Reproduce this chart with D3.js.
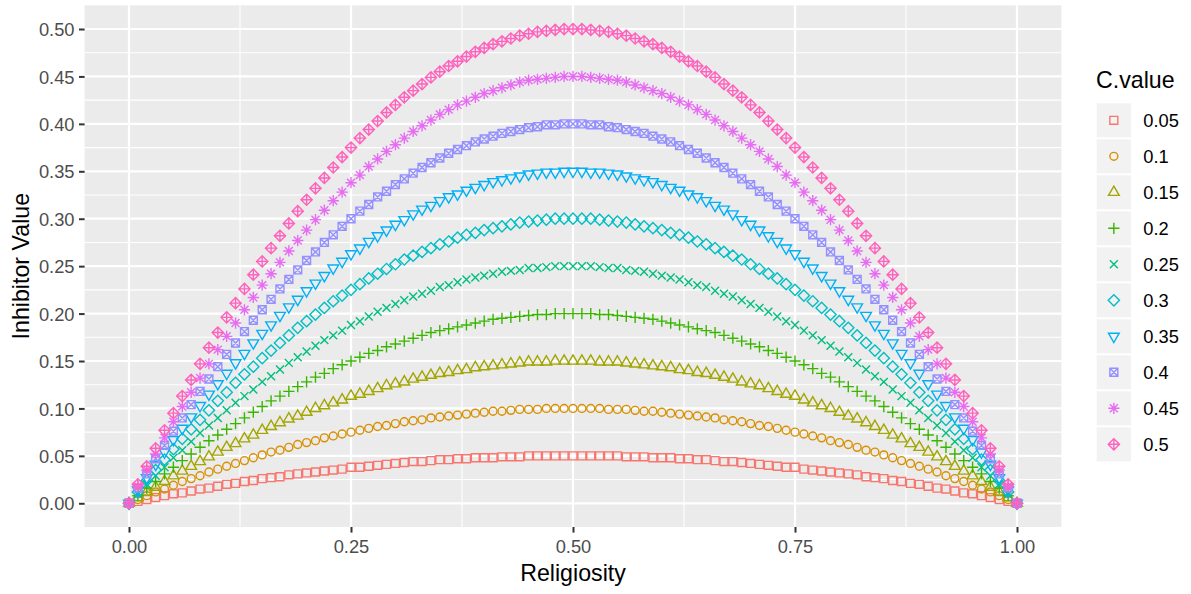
<!DOCTYPE html>
<html>
<head>
<meta charset="utf-8">
<script src="https://cdn.jsdelivr.net/npm/d3@7"></script>
<style>
  html, body { margin: 0; padding: 0; background: #fff; }
  svg { display: block; font-family: "Liberation Sans", Arial, sans-serif; }
</style>
</head>
<body>
<svg id="chart" width="1191" height="594"></svg>
<script>
// Religiosity grid (x values)
const religiosity = [0,0.01,0.02,0.03,0.04,0.05,0.06,0.07,0.08,0.09,
  0.10,0.11,0.12,0.13,0.14,0.15,0.16,0.17,0.18,0.19,
  0.20,0.21,0.22,0.23,0.24,0.25,0.26,0.27,0.28,0.29,
  0.30,0.31,0.32,0.33,0.34,0.35,0.36,0.37,0.38,0.39,
  0.40,0.41,0.42,0.43,0.44,0.45,0.46,0.47,0.48,0.49,
  0.50,0.51,0.52,0.53,0.54,0.55,0.56,0.57,0.58,0.59,
  0.60,0.61,0.62,0.63,0.64,0.65,0.66,0.67,0.68,0.69,
  0.70,0.71,0.72,0.73,0.74,0.75,0.76,0.77,0.78,0.79,
  0.80,0.81,0.82,0.83,0.84,0.85,0.86,0.87,0.88,0.89,
  0.90,0.91,0.92,0.93,0.94,0.95,0.96,0.97,0.98,0.99,1.00];

// Inhibitor value for each C.value
const inh005 = [0,.002,.004,.006,.008,.010,.011,.013,.015,.016,
  .018,.020,.021,.023,.024,.026,.027,.028,.030,.031,
  .032,.033,.034,.035,.036,.038,.038,.039,.040,.041,
  .042,.043,.044,.044,.045,.046,.046,.047,.047,.048,
  .048,.048,.049,.049,.049,.050,.050,.050,.050,.050,
  .050,
  .050,.050,.050,.050,.050,.049,.049,.049,.048,.048,
  .048,.047,.047,.046,.046,.045,.044,.044,.043,.042,
  .041,.040,.039,.038,.038,.036,.035,.034,.033,.032,
  .031,.030,.028,.027,.026,.024,.023,.021,.020,.018,
  .016,.015,.013,.011,.010,.008,.006,.004,.002,0];
const inh010 = [0,.004,.008,.012,.015,.019,.023,.026,.029,.033,
  .036,.039,.042,.045,.048,.051,.054,.056,.059,.062,
  .064,.066,.069,.071,.073,.075,.077,.079,.081,.082,
  .084,.086,.087,.088,.090,.091,.092,.093,.094,.095,
  .096,.097,.097,.098,.099,.099,.099,.100,.100,.100,
  .100,
  .100,.100,.100,.099,.099,.099,.098,.097,.097,.096,
  .095,.094,.093,.092,.091,.090,.088,.087,.086,.084,
  .082,.081,.079,.077,.075,.073,.071,.069,.066,.064,
  .062,.059,.056,.054,.051,.048,.045,.042,.039,.036,
  .033,.029,.026,.023,.019,.015,.012,.008,.004,0];
const inh015 = [0,.006,.012,.017,.023,.029,.034,.039,.044,.049,
  .054,.059,.063,.068,.072,.077,.081,.085,.089,.092,
  .096,.100,.103,.106,.109,.113,.115,.118,.121,.124,
  .126,.128,.131,.133,.135,.137,.138,.140,.141,.143,
  .144,.145,.146,.147,.148,.149,.149,.149,.150,.150,
  .150,
  .150,.150,.149,.149,.149,.148,.147,.146,.145,.144,
  .143,.141,.140,.138,.137,.135,.133,.131,.128,.126,
  .124,.121,.118,.115,.113,.109,.106,.103,.100,.096,
  .092,.089,.085,.081,.077,.072,.068,.063,.059,.054,
  .049,.044,.039,.034,.029,.023,.017,.012,.006,0];
const inh020 = [0,.008,.016,.023,.031,.038,.045,.052,.059,.066,
  .072,.078,.084,.090,.096,.102,.108,.113,.118,.123,
  .128,.133,.137,.142,.146,.150,.154,.158,.161,.165,
  .168,.171,.174,.177,.180,.182,.184,.186,.188,.190,
  .192,.194,.195,.196,.197,.198,.199,.199,.200,.200,
  .200,
  .200,.200,.199,.199,.198,.197,.196,.195,.194,.192,
  .190,.188,.186,.184,.182,.180,.177,.174,.171,.168,
  .165,.161,.158,.154,.150,.146,.142,.137,.133,.128,
  .123,.118,.113,.108,.102,.096,.090,.084,.078,.072,
  .066,.059,.052,.045,.038,.031,.023,.016,.008,0];
const inh025 = [0,.010,.020,.029,.038,.048,.056,.065,.074,.082,
  .090,.098,.106,.113,.120,.128,.134,.141,.148,.154,
  .160,.166,.172,.177,.182,.188,.192,.197,.202,.206,
  .210,.214,.218,.221,.224,.228,.230,.233,.236,.238,
  .240,.242,.244,.245,.246,.248,.248,.249,.250,.250,
  .250,
  .250,.250,.249,.248,.248,.246,.245,.244,.242,.240,
  .238,.236,.233,.230,.228,.224,.221,.218,.214,.210,
  .206,.202,.197,.192,.188,.182,.177,.172,.166,.160,
  .154,.148,.141,.134,.128,.120,.113,.106,.098,.090,
  .082,.074,.065,.056,.048,.038,.029,.020,.010,0];
const inh030 = [0,.012,.024,.035,.046,.057,.068,.078,.088,.098,
  .108,.117,.127,.136,.144,.153,.161,.169,.177,.185,
  .192,.199,.206,.213,.219,.225,.231,.237,.242,.247,
  .252,.257,.261,.265,.269,.273,.276,.280,.283,.285,
  .288,.290,.292,.294,.296,.297,.298,.299,.300,.300,
  .300,
  .300,.300,.299,.298,.297,.296,.294,.292,.290,.288,
  .285,.283,.280,.276,.273,.269,.265,.261,.257,.252,
  .247,.242,.237,.231,.225,.219,.213,.206,.199,.192,
  .185,.177,.169,.161,.153,.144,.136,.127,.117,.108,
  .098,.088,.078,.068,.057,.046,.035,.024,.012,0];
const inh035 = [0,.014,.027,.041,.054,.067,.079,.091,.103,.115,
  .126,.137,.148,.158,.169,.179,.188,.198,.207,.215,
  .224,.232,.240,.248,.255,.263,.269,.276,.282,.288,
  .294,.299,.305,.310,.314,.319,.323,.326,.330,.333,
  .336,.339,.341,.343,.345,.347,.348,.349,.349,.350,
  .350,
  .350,.349,.349,.348,.347,.345,.343,.341,.339,.336,
  .333,.330,.326,.323,.319,.314,.310,.305,.299,.294,
  .288,.282,.276,.269,.263,.255,.248,.240,.232,.224,
  .215,.207,.198,.188,.179,.169,.158,.148,.137,.126,
  .115,.103,.091,.079,.067,.054,.041,.027,.014,0];
const inh040 = [0,.016,.031,.047,.061,.076,.090,.104,.118,.131,
  .144,.157,.169,.181,.193,.204,.215,.226,.236,.246,
  .256,.265,.275,.283,.292,.300,.308,.315,.323,.329,
  .336,.342,.348,.354,.359,.364,.369,.373,.377,.381,
  .384,.387,.390,.392,.394,.396,.397,.399,.399,.400,
  .400,
  .400,.399,.399,.397,.396,.394,.392,.390,.387,.384,
  .381,.377,.373,.369,.364,.359,.354,.348,.342,.336,
  .329,.323,.315,.308,.300,.292,.283,.275,.265,.256,
  .246,.236,.226,.215,.204,.193,.181,.169,.157,.144,
  .131,.118,.104,.090,.076,.061,.047,.031,.016,0];
const inh045 = [0,.018,.035,.052,.069,.086,.102,.117,.132,.147,
  .162,.176,.190,.204,.217,.230,.242,.254,.266,.277,
  .288,.299,.309,.319,.328,.338,.346,.355,.363,.371,
  .378,.385,.392,.398,.404,.410,.415,.420,.424,.428,
  .432,.435,.438,.441,.444,.446,.447,.448,.449,.450,
  .450,
  .450,.449,.448,.447,.446,.444,.441,.438,.435,.432,
  .428,.424,.420,.415,.410,.404,.398,.392,.385,.378,
  .371,.363,.355,.346,.338,.328,.319,.309,.299,.288,
  .277,.266,.254,.242,.230,.217,.204,.190,.176,.162,
  .147,.132,.117,.102,.086,.069,.052,.035,.018,0];
const inh050 = [0,.020,.039,.058,.077,.095,.113,.130,.147,.164,
  .180,.196,.211,.226,.241,.255,.269,.282,.295,.308,
  .320,.332,.343,.354,.365,.375,.385,.394,.403,.412,
  .420,.428,.435,.442,.449,.455,.461,.466,.471,.476,
  .480,.484,.487,.490,.493,.495,.497,.498,.499,.500,
  .500,
  .500,.499,.498,.497,.495,.493,.490,.487,.484,.480,
  .476,.471,.466,.461,.455,.449,.442,.435,.428,.420,
  .412,.403,.394,.385,.375,.365,.354,.343,.332,.320,
  .308,.295,.282,.269,.255,.241,.226,.211,.196,.180,
  .164,.147,.130,.113,.095,.077,.058,.039,.020,0];

const cLabels = ["0.05","0.1","0.15","0.2","0.25","0.3","0.35","0.4","0.45","0.5"];
const cSeries = [inh005, inh010, inh015, inh020, inh025, inh030, inh035, inh040, inh045, inh050];
const cColors = ["#F8766D","#D89000","#A3A500","#39B600","#00BF7D","#00BFC4","#00B0F6","#9590FF","#E76BF3","#FF62BC"];
const cShapes = [0,1,2,3,4,5,6,7,8,9];

const xTicks = [0, 0.25, 0.5, 0.75, 1];
const xMinor = [0.125, 0.375, 0.625, 0.875];
const yTicks = [0,0.05,0.10,0.15,0.20,0.25,0.30,0.35,0.40,0.45,0.50];
const yMinor = [0.025,0.075,0.125,0.175,0.225,0.275,0.325,0.375,0.425,0.475];

// ---- layout ----
const panel = {left: 84.6, right: 1061.4, top: 5.3, bottom: 527};
const svg = d3.select("#chart");

const x = d3.scaleLinear().domain([-0.05, 1.05]).range([panel.left, panel.right]);
const y = d3.scaleLinear().domain([-0.025, 0.525]).range([panel.bottom, panel.top]);

// point symbols in the style of R plotting characters
const G = 10.6, R = 0.375 * G, S2 = Math.SQRT2 * R;
function symbolPath(shape) {
  const sq = h => `M${-h},${-h}H${h}V${h}H${-h}Z`;
  const cross = h => `M${-h},${-h}L${h},${h}M${-h},${h}L${h},${-h}`;
  const plus = h => `M${-h},0H${h}M0,${-h}V${h}`;
  const diamond = h => `M0,${-h}L${h},0L0,${h}L${-h},0Z`;
  const tr = 1.5551 * R, ty = 0.7776 * R, tw = 1.3468 * R;
  switch (shape) {
    case 0: return sq(R);
    case 1: return `M${R},0A${R},${R} 0 1,1 ${-R},0A${R},${R} 0 1,1 ${R},0Z`;
    case 2: return `M0,${-tr}L${tw},${ty}L${-tw},${ty}Z`;
    case 3: return plus(S2);
    case 4: return cross(R);
    case 5: return diamond(S2);
    case 6: return `M0,${tr}L${tw},${-ty}L${-tw},${-ty}Z`;
    case 7: return sq(R) + cross(R);
    case 8: return cross(R) + plus(S2);
    case 9: return diamond(S2) + plus(S2);
  }
}
const strokeW = 1.4;

// panel background and grid
svg.append("rect").attr("x", panel.left).attr("y", panel.top)
  .attr("width", panel.right - panel.left).attr("height", panel.bottom - panel.top)
  .attr("fill", "#EBEBEB");

const grid = svg.append("g");
grid.selectAll(".ymin").data(yMinor).join("line")
  .attr("x1", panel.left).attr("x2", panel.right)
  .attr("y1", d => y(d)).attr("y2", d => y(d))
  .attr("stroke", "#fff").attr("stroke-width", 1.1);
grid.selectAll(".xmin").data(xMinor).join("line")
  .attr("y1", panel.top).attr("y2", panel.bottom)
  .attr("x1", d => x(d)).attr("x2", d => x(d))
  .attr("stroke", "#fff").attr("stroke-width", 1.1);
grid.selectAll(".ymaj").data(yTicks).join("line")
  .attr("x1", panel.left).attr("x2", panel.right)
  .attr("y1", d => y(d)).attr("y2", d => y(d))
  .attr("stroke", "#fff").attr("stroke-width", 2.2);
grid.selectAll(".xmaj").data(xTicks).join("line")
  .attr("y1", panel.top).attr("y2", panel.bottom)
  .attr("x1", d => x(d)).attr("x2", d => x(d))
  .attr("stroke", "#fff").attr("stroke-width", 2.2);

// points
const pts = svg.append("g");
cSeries.forEach((vals, i) => {
  pts.append("g").selectAll("path")
    .data(vals.map((v, j) => [religiosity[j], v]))
    .join("path")
    .attr("transform", d => `translate(${x(d[0])},${y(d[1])})`)
    .attr("d", symbolPath(cShapes[i]))
    .attr("fill", "none")
    .attr("stroke", cColors[i])
    .attr("stroke-width", strokeW);
});

// axes
const tickFont = 18.3, titleFont = 23.2;
const xAxis = svg.append("g").attr("transform", `translate(0,${panel.bottom})`)
  .call(d3.axisBottom(x).tickValues(xTicks).tickFormat(d3.format(".2f")).tickSize(5.6).tickPadding(4.5));
const yAxis = svg.append("g").attr("transform", `translate(${panel.left},0)`)
  .call(d3.axisLeft(y).tickValues(yTicks).tickFormat(d3.format(".2f")).tickSize(5.6).tickPadding(4.5));
[xAxis, yAxis].forEach(a => {
  a.select(".domain").remove();
  a.selectAll(".tick line").attr("stroke", "#333333").attr("stroke-width", 2);
  a.selectAll(".tick text").attr("fill", "#4D4D4D")
    .style("font-size", tickFont + "px")
    .style("font-family", '"Liberation Sans", Arial, sans-serif');
});
xAxis.selectAll(".tick text").attr("dy", null).attr("y", 25.9);
yAxis.selectAll(".tick text").attr("dy", "0.36em");

// axis titles
svg.append("text").attr("x", (panel.left + panel.right) / 2).attr("y", 580.9)
  .attr("text-anchor", "middle").attr("fill", "#000")
  .style("font-size", titleFont + "px").text("Religiosity");
svg.append("text")
  .attr("transform", `translate(28.5,${(panel.top + panel.bottom) / 2}) rotate(-90)`)
  .attr("text-anchor", "middle").attr("fill", "#000")
  .style("font-size", titleFont + "px").text("Inhibitor Value");

// legend
const legend = svg.append("g");
legend.append("text").attr("x", 1096).attr("y", 88).attr("fill", "#000")
  .style("font-size", titleFont + "px").text("C.value");
const keyTop = 103.3, keyPitch = 36, keyW = 34.3, keyH = 34, keyX = 1096.7;
cLabels.forEach((lab, i) => {
  const ky = keyTop + i * keyPitch;
  legend.append("rect").attr("x", keyX).attr("y", ky)
    .attr("width", keyW).attr("height", keyH).attr("fill", "#F2F2F2");
  legend.append("path")
    .attr("transform", `translate(${keyX + keyW / 2},${ky + keyH / 2})`)
    .attr("d", symbolPath(cShapes[i]))
    .attr("fill", "none").attr("stroke", cColors[i]).attr("stroke-width", strokeW);
  legend.append("text").attr("x", 1143.3).attr("y", ky + keyH / 2 + 6.6)
    .attr("fill", "#000").style("font-size", tickFont + "px").text(lab);
});
</script>
</body>
</html>
